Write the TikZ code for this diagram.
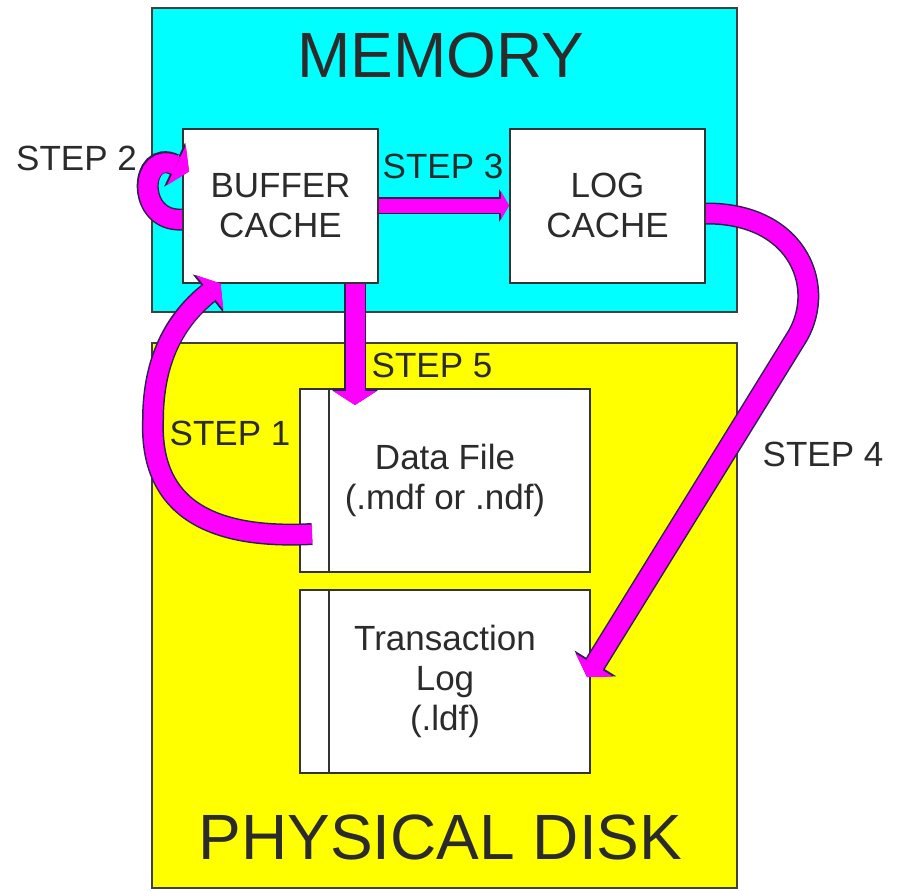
\documentclass[tikz,border=0pt]{standalone}
\usepackage{fontspec}
\setmainfont{Liberation Sans}
\usetikzlibrary{arrows.meta,positioning}
\definecolor{MemCyan}{HTML}{00FFFF}
\definecolor{DiskYellow}{HTML}{FFFF00}
\definecolor{Flow}{HTML}{FF00FF}
\definecolor{Rim}{HTML}{2A2350}
\definecolor{Ink}{HTML}{2B2B2B}

\begin{document}
\begin{tikzpicture}[x=0.5pt,y=-0.5pt,font=\fontsize{17.5}{20}\selectfont,text=Ink,
  panel/.style={draw=black!75,line width=1pt,inner sep=0pt,minimum width=292.5pt},
  cache/.style={draw=black!80,line width=1pt,fill=white,minimum width=97.5pt,minimum height=77pt,align=center},
  dbfile/.style={draw=black!80,line width=1pt,fill=white,minimum width=145pt,minimum height=91.5pt,align=center},
  big/.style={font=\fontsize{32}{36}\selectfont,inner sep=0pt},
  flow/.style={draw=Flow,line width=9.5pt,-{Triangle[length=7pt,width=22pt,line width=0pt]},
    preaction={draw=Rim,line width=11pt,-{Triangle[length=8pt,width=24.5pt,line width=0pt]}}},
  thinflow/.style={draw=Flow,line width=7pt,-{Triangle[length=4pt,width=14pt,line width=0pt]},
    preaction={draw=Rim,line width=8.5pt,-{Triangle[length=5pt,width=16.5pt,line width=0pt]}}}]
  \useasboundingbox (0,0) rectangle (897,890);
  \node[panel,fill=MemCyan,minimum height=152pt] (mem) at (444.5,160) {};
  \node[panel,fill=DiskYellow,minimum height=272.5pt] (disk) at (444.5,615.5) {};
  \node[big] (memtxt) at (441,55) {MEMORY};
  \node[big] (disktxt) at (440.5,837) {PHYSICAL DISK};

  \node[cache] (buf) at (280.5,205.5) {BUFFER\\CACHE};
  \node[cache,right=65pt of buf] (logc) {LOG\\CACHE};
  \node[dbfile] (df) at (445,480) {Data File\\(.mdf or .ndf)};
  \node[dbfile,below=8pt of df] (tl) {Transaction\\Log\\(.ldf)};
  \draw[black!80,line width=1pt] ([xshift=15pt]df.north west) -- ([xshift=15pt]df.south west);
  \draw[black!80,line width=1pt] ([xshift=15pt]tl.north west) -- ([xshift=15pt]tl.south west);

  % the five steps
  \coordinate (s5) at (355,405);
  \draw[flow] ([xshift=6.5pt,yshift=-27pt]df.west) .. controls (200,540) and (150,500) .. (153,420)
    .. controls (153,360) and (175,320) .. ([xshift=-30pt]buf.south);
  \draw[flow] ([yshift=-7pt]buf.west) .. controls (135,222) and (140,148) .. ([xshift=3.5pt,yshift=-22pt]buf.north west);
  \draw[thinflow] (buf.east) -- (buf.east -| logc.west);
  \draw[flow] ([yshift=-4pt]logc.east) .. controls (800,213) and (828,290) .. (795,340)
    -- ([xshift=-2pt,yshift=2pt]tl.east);
  \draw[flow] (s5 |- buf.south) -- (s5);

  \node (st1) at (230,433) {STEP 1};
  \node (st2) at (76.5,158) {STEP 2};
  \node (st3) at (443,166) {STEP 3};
  \node (st4) at (823,454) {STEP 4};
  \node (st5) at (432,365) {STEP 5};
\end{tikzpicture}
\end{document}
